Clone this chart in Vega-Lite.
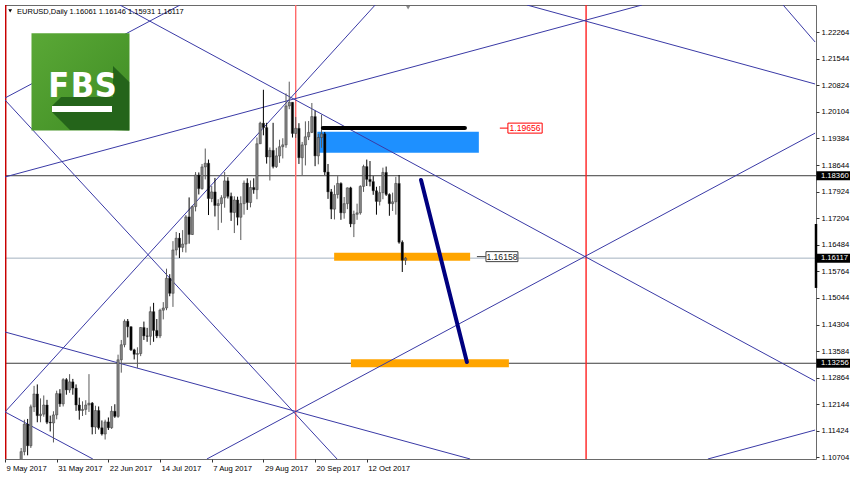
{
"$schema":"https://vega.github.io/schema/vega-lite/v6.json",
"width":811,"height":454,
"autosize":{"type":"none"},
"padding":{"left":5,"top":5,"right":34,"bottom":21},
"background":"#ffffff",
"config":{"view":{"stroke":"#6a6a6a","strokeWidth":1},"text":{"font":"Liberation Sans"},"scale":{"continuousPadding":0},
 "axis":{"labelOverlap":false,"labelSeparation":0,"labelBound":false,"labelFlush":false},"axisY":{"labelOverlap":false},"axisX":{"labelOverlap":false}},
"datasets":{
"candles":[
{"i":0,"o":1.0922,"h":1.0935,"l":1.0869,"c":1.0874},{"i":1,"o":1.0874,"h":1.0905,"l":1.0865,"c":1.0870},{"i":2,"o":1.0870,"h":1.0890,"l":1.0839,"c":1.0862},{"i":3,"o":1.0862,"h":1.0935,"l":1.0855,"c":1.0932},{"i":4,"o":1.0932,"h":1.0985,"l":1.0923,"c":1.0982},
{"i":5,"o":1.0982,"h":1.1095,"l":1.0964,"c":1.1085},{"i":6,"o":1.1085,"h":1.1172,"l":1.1075,"c":1.1160},{"i":7,"o":1.1160,"h":1.1174,"l":1.1075,"c":1.1101},{"i":8,"o":1.1101,"h":1.1213,"l":1.1095,"c":1.1207},{"i":9,"o":1.1207,"h":1.1264,"l":1.1193,"c":1.1242},
{"i":10,"o":1.1242,"h":1.1268,"l":1.1165,"c":1.1183},{"i":11,"o":1.1183,"h":1.1230,"l":1.1165,"c":1.1187},{"i":12,"o":1.1187,"h":1.1238,"l":1.1180,"c":1.1212},{"i":13,"o":1.1212,"h":1.1226,"l":1.1160,"c":1.1165},{"i":14,"o":1.1165,"h":1.1183,"l":1.1140,"c":1.1163},
{"i":15,"o":1.1163,"h":1.1195,"l":1.1110,"c":1.1185},{"i":16,"o":1.1185,"h":1.1251,"l":1.1173,"c":1.1243},{"i":17,"o":1.1243,"h":1.1255,"l":1.1207,"c":1.1215},{"i":18,"o":1.1215,"h":1.1285,"l":1.1208,"c":1.1281},{"i":19,"o":1.1281,"h":1.1285,"l":1.1240,"c":1.1253},
{"i":20,"o":1.1253,"h":1.1296,"l":1.1245,"c":1.1275},{"i":21,"o":1.1275,"h":1.1283,"l":1.1240,"c":1.1258},{"i":22,"o":1.1258,"h":1.1268,"l":1.1196,"c":1.1212},{"i":23,"o":1.1212,"h":1.1232,"l":1.1172,"c":1.1197},{"i":24,"o":1.1197,"h":1.1222,"l":1.1182,"c":1.1200},
{"i":25,"o":1.1200,"h":1.1225,"l":1.1185,"c":1.1212},{"i":26,"o":1.1212,"h":1.1296,"l":1.1193,"c":1.1217},{"i":27,"o":1.1217,"h":1.1220,"l":1.1132,"c":1.1152},{"i":28,"o":1.1152,"h":1.1210,"l":1.1133,"c":1.1197},{"i":29,"o":1.1197,"h":1.1208,"l":1.1145,"c":1.1150},
{"i":30,"o":1.1150,"h":1.1170,"l":1.1129,"c":1.1133},{"i":31,"o":1.1133,"h":1.1172,"l":1.1118,"c":1.1166},{"i":32,"o":1.1166,"h":1.1178,"l":1.1144,"c":1.1150},{"i":33,"o":1.1150,"h":1.1209,"l":1.1147,"c":1.1195},{"i":34,"o":1.1195,"h":1.1214,"l":1.1177,"c":1.1181},
{"i":35,"o":1.1181,"h":1.1349,"l":1.1177,"c":1.1335},{"i":36,"o":1.1335,"h":1.1389,"l":1.1300,"c":1.1376},{"i":37,"o":1.1376,"h":1.1445,"l":1.1369,"c":1.1440},{"i":38,"o":1.1440,"h":1.1446,"l":1.1396,"c":1.1425},{"i":39,"o":1.1425,"h":1.1426,"l":1.1359,"c":1.1362},
{"i":40,"o":1.1362,"h":1.1365,"l":1.1336,"c":1.1350},{"i":41,"o":1.1350,"h":1.1369,"l":1.1313,"c":1.1352},{"i":42,"o":1.1352,"h":1.1424,"l":1.1345,"c":1.1423},{"i":43,"o":1.1423,"h":1.1439,"l":1.1389,"c":1.1400},{"i":44,"o":1.1400,"h":1.1422,"l":1.1384,"c":1.1399},
{"i":45,"o":1.1399,"h":1.1480,"l":1.1375,"c":1.1466},{"i":46,"o":1.1466,"h":1.1490,"l":1.1384,"c":1.1415},{"i":47,"o":1.1415,"h":1.1446,"l":1.1394,"c":1.1400},{"i":48,"o":1.1400,"h":1.1474,"l":1.1394,"c":1.1470},{"i":49,"o":1.1470,"h":1.1492,"l":1.1445,"c":1.1476},
{"i":50,"o":1.1476,"h":1.1583,"l":1.1470,"c":1.1557},{"i":51,"o":1.1557,"h":1.1568,"l":1.1508,"c":1.1516},{"i":52,"o":1.1516,"h":1.1658,"l":1.1479,"c":1.1634},{"i":53,"o":1.1634,"h":1.1683,"l":1.1619,"c":1.1666},{"i":54,"o":1.1666,"h":1.1680,"l":1.1612,"c":1.1641},
{"i":55,"o":1.1641,"h":1.1688,"l":1.1628,"c":1.1650},{"i":56,"o":1.1650,"h":1.1729,"l":1.1627,"c":1.1724},{"i":57,"o":1.1724,"h":1.1777,"l":1.1651,"c":1.1676},{"i":58,"o":1.1676,"h":1.1755,"l":1.1675,"c":1.1752},{"i":59,"o":1.1752,"h":1.1846,"l":1.1739,"c":1.1838},
{"i":60,"o":1.1838,"h":1.1845,"l":1.1785,"c":1.1801},{"i":61,"o":1.1801,"h":1.1868,"l":1.1798,"c":1.1860},{"i":62,"o":1.1860,"h":1.1910,"l":1.1826,"c":1.1870},{"i":63,"o":1.1870,"h":1.1880,"l":1.1729,"c":1.1774},{"i":64,"o":1.1774,"h":1.1808,"l":1.1764,"c":1.1792},
{"i":65,"o":1.1792,"h":1.1830,"l":1.1725,"c":1.1755},{"i":66,"o":1.1755,"h":1.1772,"l":1.1688,"c":1.1760},{"i":67,"o":1.1760,"h":1.1783,"l":1.1708,"c":1.1776},{"i":68,"o":1.1776,"h":1.1846,"l":1.1749,"c":1.1822},{"i":69,"o":1.1822,"h":1.1832,"l":1.1774,"c":1.1780},
{"i":70,"o":1.1780,"h":1.1790,"l":1.1713,"c":1.1736},{"i":71,"o":1.1736,"h":1.1780,"l":1.1680,"c":1.1770},{"i":72,"o":1.1770,"h":1.1779,"l":1.1701,"c":1.1723},{"i":73,"o":1.1723,"h":1.1780,"l":1.1661,"c":1.1760},{"i":74,"o":1.1760,"h":1.1823,"l":1.1730,"c":1.1816},
{"i":75,"o":1.1816,"h":1.1829,"l":1.1743,"c":1.1763},{"i":76,"o":1.1763,"h":1.1823,"l":1.1750,"c":1.1804},{"i":77,"o":1.1804,"h":1.1829,"l":1.1787,"c":1.1798},{"i":78,"o":1.1798,"h":1.1940,"l":1.1772,"c":1.1923},{"i":79,"o":1.1923,"h":1.1983,"l":1.1923,"c":1.1979},
{"i":80,"o":1.1979,"h":1.2070,"l":1.1946,"c":1.1967},{"i":81,"o":1.1967,"h":1.1980,"l":1.1869,"c":1.1887},{"i":82,"o":1.1887,"h":1.1913,"l":1.1823,"c":1.1905},{"i":83,"o":1.1905,"h":1.1980,"l":1.1856,"c":1.1861},{"i":84,"o":1.1861,"h":1.1912,"l":1.1857,"c":1.1890},
{"i":85,"o":1.1890,"h":1.1934,"l":1.1871,"c":1.1915},{"i":86,"o":1.1915,"h":1.1938,"l":1.1883,"c":1.1920},{"i":87,"o":1.1920,"h":1.2060,"l":1.1912,"c":1.2026},{"i":88,"o":1.2026,"h":1.2092,"l":1.2017,"c":1.2036},{"i":89,"o":1.2036,"h":1.2036,"l":1.1940,"c":1.1951},
{"i":90,"o":1.1951,"h":1.1996,"l":1.1939,"c":1.1965},{"i":91,"o":1.1965,"h":1.1979,"l":1.1868,"c":1.1885},{"i":92,"o":1.1885,"h":1.1928,"l":1.1838,"c":1.1920},{"i":93,"o":1.1920,"h":1.1984,"l":1.1864,"c":1.1942},{"i":94,"o":1.1942,"h":1.1985,"l":1.1933,"c":1.1954},
{"i":95,"o":1.1954,"h":1.2034,"l":1.1952,"c":1.1997},{"i":96,"o":1.1997,"h":1.2013,"l":1.1862,"c":1.1890},{"i":97,"o":1.1890,"h":1.1950,"l":1.1867,"c":1.1940},{"i":98,"o":1.1940,"h":1.2002,"l":1.1912,"c":1.1950},{"i":99,"o":1.1950,"h":1.1955,"l":1.1838,"c":1.1846},
{"i":100,"o":1.1846,"h":1.1868,"l":1.1773,"c":1.1792},{"i":101,"o":1.1792,"h":1.1800,"l":1.1718,"c":1.1745},{"i":102,"o":1.1745,"h":1.1810,"l":1.1717,"c":1.1785},{"i":103,"o":1.1785,"h":1.1835,"l":1.1774,"c":1.1815},{"i":104,"o":1.1815,"h":1.1818,"l":1.1716,"c":1.1735},
{"i":105,"o":1.1735,"h":1.1778,"l":1.1719,"c":1.1760},{"i":106,"o":1.1760,"h":1.1804,"l":1.1745,"c":1.1803},{"i":107,"o":1.1803,"h":1.1806,"l":1.1696,"c":1.1705},{"i":108,"o":1.1705,"h":1.1741,"l":1.1669,"c":1.1731},{"i":109,"o":1.1731,"h":1.1760,"l":1.1716,"c":1.1735},
{"i":110,"o":1.1735,"h":1.1810,"l":1.1730,"c":1.1807},{"i":111,"o":1.1807,"h":1.1866,"l":1.1792,"c":1.1861},{"i":112,"o":1.1861,"h":1.1880,"l":1.1808,"c":1.1826},{"i":113,"o":1.1826,"h":1.1876,"l":1.1807,"c":1.1820},{"i":114,"o":1.1820,"h":1.1835,"l":1.1784,"c":1.1795},
{"i":115,"o":1.1795,"h":1.1806,"l":1.1730,"c":1.1766},{"i":116,"o":1.1766,"h":1.1808,"l":1.1755,"c":1.1790},{"i":117,"o":1.1790,"h":1.1858,"l":1.1772,"c":1.1845},{"i":118,"o":1.1845,"h":1.1861,"l":1.1781,"c":1.1785},{"i":119,"o":1.1785,"h":1.1788,"l":1.1727,"c":1.1760},
{"i":120,"o":1.1760,"h":1.1790,"l":1.1740,"c":1.1765},{"i":121,"o":1.1765,"h":1.1833,"l":1.1730,"c":1.1815},{"i":122,"o":1.1815,"h":1.1838,"l":1.1651,"c":1.1655},{"i":123,"o":1.1655,"h":1.1660,"l":1.1574,"c":1.1606},{"i":124,"o":1.16061,"h":1.16146,"l":1.15931,"c":1.16117}
],
"gann":[
{"i1":35.6,"p1":1.23007,"i2":250.8,"p2":1.12772},
{"i1":0,"p1":1.20476,"i2":54.2,"p2":1.23007},
{"i1":0,"p1":1.18326,"i2":197.2,"p2":1.23007},
{"i1":0,"p1":1.20421,"i2":102.8,"p2":1.1065},
{"i1":0,"p1":1.11931,"i2":114.6,"p2":1.23007},
{"i1":0,"p1":1.11931,"i2":27.2,"p2":1.1065},
{"i1":62.5,"p1":1.1065,"i2":250.8,"p2":1.1952},
{"i1":0,"p1":1.14107,"i2":144.0,"p2":1.1065},
{"i1":161.6,"p1":1.23007,"i2":250.8,"p2":1.20857},
{"i1":240.9,"p1":1.23007,"i2":250.8,"p2":1.22},
{"i1":217.6,"p1":1.1065,"i2":250.8,"p2":1.11438}
],
"levels":[{"p":1.18360},{"p":1.13256}],
"bid":[{"p":1.16117}],
"vlines":[{"i":90.0,"w":"a"},{"i":179.9,"w":"b"}],
"zone":[{"i1":96.7,"i2":146.7,"p1":1.19558,"p2":1.18987}],
"orange":[{"i1":101.9,"i2":144.0,"p":1.16158},{"i1":107.1,"i2":156.0,"p":1.13256}],
"blackline":[{"i1":98.4,"i2":142.4,"p":1.19656}],
"navy":[{"i1":128.8,"p1":1.18244,"i2":143.0,"p2":1.13289}],
"tagRed":[{"p":1.19656,"t":"1.19656"}],
"tagGray":[{"p":1.16158,"t":"1.16158"}],
"axisTags":[{"p":1.18360,"t":"1.18360"},{"p":1.16117,"t":"1.16117"},{"p":1.13256,"t":"1.13256"}],
"header":[{"t":"EURUSD,Daily  1.16061 1.16146 1.15931 1.16117"}],
"letters":[{"t":"F","i":16.6},{"t":"B","i":23.95},{"t":"S","i":31.2}],
"shadow":[
{"i":14.55,"top":1.20258,"bot":1.20095},
{"i":17.34,"top":1.20503,"bot":1.1985},
{"i":20.12,"top":1.20503,"bot":1.19605},
{"i":33.41,"top":1.20503,"bot":1.19605},
{"i":33.44,"top":1.21347,"bot":1.19605},
{"i":38.48,"top":1.20911,"bot":1.19591}
]
},
"layer":[
{"data":{"name":"candles"},"mark":{"type":"rule","opacity":0,"clip":true},
 "encoding":{
  "x":{"field":"i","type":"quantitative","scale":{"domain":[0,251.08],"nice":false,"zero":false,"padding":0},
   "axis":{"title":null,"orient":"bottom","values":[0,16,32,48,64,80,96,112],"labelExpr":"['9 May 2017','31 May 2017','22 Jun 2017','14 Jul 2017','7 Aug 2017','29 Aug 2017','20 Sep 2017','12 Oct 2017'][round(datum.value/16)]","domain":false,"grid":false,"ticks":true,"tickSize":3,"tickColor":"#333333","labelAlign":"left","labelBaseline":"top","labelPadding":2,"labelOffset":1,"labelFlush":false,"labelOverlap":false,"labelBound":false,"labelFont":"Liberation Sans","labelFontSize":7.7,"labelColor":"#000000"}},
  "y":{"field":"l","type":"quantitative","scale":{"domain":[1.1065,1.23007],"nice":false,"zero":false,"padding":0},
   "axis":{"title":null,"orient":"right","values":[1.22264,1.21544,1.20824,1.20104,1.19384,1.18644,1.17924,1.17204,1.16484,1.15764,1.15044,1.14304,1.13584,1.12864,1.12144,1.11424,1.10704],"tickCount":17,"format":".5f","domain":false,"grid":false,"ticks":true,"tickSize":3,"tickColor":"#333333","labelAlign":"left","labelBaseline":"middle","labelPadding":2,"labelFlush":false,"labelOverlap":false,"labelBound":false,"labelFont":"Liberation Sans","labelFontSize":7.7,"labelColor":"#000000"}},
  "y2":{"field":"h"}}},
{"data":{"name":"bid"},"mark":{"type":"rule","clip":true,"color":"#a3b1bf","strokeWidth":1},
 "encoding":{"y":{"field":"p","type":"quantitative","scale":{"domain":[1.1065,1.23007],"nice":false,"zero":false,"padding":0}}}},
{"data":{"name":"levels"},"mark":{"type":"rule","clip":true,"color":"#3c3c3c","strokeWidth":1},
 "encoding":{"y":{"field":"p","type":"quantitative","scale":{"domain":[1.1065,1.23007],"nice":false,"zero":false,"padding":0}}}},
{"data":{"name":"zone"},"mark":{"type":"rect","clip":true,"color":"#1e90ff"},
 "encoding":{"x":{"field":"i1","type":"quantitative","scale":{"domain":[0,251.08],"nice":false,"zero":false,"padding":0}},"x2":{"field":"i2"},
  "y":{"field":"p1","type":"quantitative","scale":{"domain":[1.1065,1.23007],"nice":false,"zero":false,"padding":0}},"y2":{"field":"p2"}}},
{"data":{"name":"orange"},"mark":{"type":"rule","clip":true,"color":"#ffa500","strokeWidth":8,"strokeCap":"butt"},
 "encoding":{"x":{"field":"i1","type":"quantitative","scale":{"domain":[0,251.08],"nice":false,"zero":false,"padding":0}},"x2":{"field":"i2"},
  "y":{"field":"p","type":"quantitative","scale":{"domain":[1.1065,1.23007],"nice":false,"zero":false,"padding":0}}}},
{"data":{"name":"vlines"},"mark":{"type":"rule","clip":true,"strokeWidth":1.4},
 "encoding":{"x":{"field":"i","type":"quantitative","scale":{"domain":[0,251.08],"nice":false,"zero":false,"padding":0}},
  "color":{"field":"w","type":"nominal","scale":{"domain":["a","b"],"range":["#ff6a6a","#ff2020"]},"legend":null}}},
{"data":{"name":"bid"},"mark":{"type":"rule","clip":true,"color":"#c80000","strokeWidth":1.6},
 "encoding":{"x":{"datum":0.2,"type":"quantitative","scale":{"domain":[0,251.08],"nice":false,"zero":false,"padding":0}}}},
{"data":{"name":"gann"},"mark":{"type":"rule","clip":true,"color":"#3a3aa6","strokeWidth":1},
 "encoding":{"x":{"field":"i1","type":"quantitative","scale":{"domain":[0,251.08],"nice":false,"zero":false,"padding":0}},"x2":{"field":"i2"},
  "y":{"field":"p1","type":"quantitative","scale":{"domain":[1.1065,1.23007],"nice":false,"zero":false,"padding":0}},"y2":{"field":"p2"}}},
{"data":{"name":"candles"},"mark":{"type":"rule","clip":true,"strokeWidth":1},
 "encoding":{
  "x":{"field":"i","type":"quantitative","scale":{"domain":[0,251.08],"nice":false,"zero":false,"padding":0}},
  "y":{"field":"l","type":"quantitative","scale":{"domain":[1.1065,1.23007],"nice":false,"zero":false,"padding":0}},
  "y2":{"field":"h"},
  "color":{"condition":{"test":"datum.c >= datum.o","value":"#5a5a5a"},"value":"#000000"}}},
{"data":{"name":"candles"},"mark":{"type":"bar","clip":true,"size":2.4,"stroke":"#2a2a2a","strokeWidth":0.4},
 "encoding":{"x":{"field":"i","type":"quantitative","scale":{"domain":[0,251.08],"nice":false,"zero":false,"padding":0}},
  "y":{"field":"o","type":"quantitative","scale":{"domain":[1.1065,1.23007],"nice":false,"zero":false,"padding":0}},"y2":{"field":"c"},
  "color":{"condition":{"test":"datum.c >= datum.o","value":"#828282"},"value":"#000000"}}},
{"data":{"name":"blackline"},"mark":{"type":"rule","clip":true,"color":"#000000","strokeWidth":4,"strokeCap":"round"},
 "encoding":{"x":{"field":"i1","type":"quantitative","scale":{"domain":[0,251.08],"nice":false,"zero":false,"padding":0}},"x2":{"field":"i2"},
  "y":{"field":"p","type":"quantitative","scale":{"domain":[1.1065,1.23007],"nice":false,"zero":false,"padding":0}}}},
{"data":{"name":"navy"},"mark":{"type":"rule","clip":true,"color":"#00007f","strokeWidth":4,"strokeCap":"round"},
 "encoding":{"x":{"field":"i1","type":"quantitative","scale":{"domain":[0,251.08],"nice":false,"zero":false,"padding":0}},"x2":{"field":"i2"},
  "y":{"field":"p1","type":"quantitative","scale":{"domain":[1.1065,1.23007],"nice":false,"zero":false,"padding":0}},"y2":{"field":"p2"}}},
{"data":{"name":"tagRed"},"mark":{"type":"rule","color":"#ff0000","strokeWidth":1},
 "encoding":{"x":{"datum":153.2,"type":"quantitative","scale":{"domain":[0,251.08],"nice":false,"zero":false,"padding":0}},"x2":{"datum":155.7},
  "y":{"field":"p","type":"quantitative","scale":{"domain":[1.1065,1.23007],"nice":false,"zero":false,"padding":0}}}},
{"data":{"name":"tagRed"},"mark":{"type":"bar","size":10,"fill":"#ffffff","stroke":"#ff0000","strokeWidth":1},
 "encoding":{"x":{"datum":155.7,"type":"quantitative","scale":{"domain":[0,251.08],"nice":false,"zero":false,"padding":0}},"x2":{"datum":166.3},
  "y":{"field":"p","type":"quantitative","scale":{"domain":[1.1065,1.23007],"nice":false,"zero":false,"padding":0}}}},
{"data":{"name":"tagRed"},"mark":{"type":"text","color":"#ff0000","fontSize":8.6,"align":"center","baseline":"middle","font":"Liberation Sans"},
 "encoding":{"x":{"datum":161.0,"type":"quantitative","scale":{"domain":[0,251.08],"nice":false,"zero":false,"padding":0}},
  "y":{"field":"p","type":"quantitative","scale":{"domain":[1.1065,1.23007],"nice":false,"zero":false,"padding":0}},"text":{"field":"t"}}},
{"data":{"name":"tagGray"},"mark":{"type":"rule","color":"#404040","strokeWidth":1},
 "encoding":{"x":{"datum":146.1,"type":"quantitative","scale":{"domain":[0,251.08],"nice":false,"zero":false,"padding":0}},"x2":{"datum":148.9},
  "y":{"field":"p","type":"quantitative","scale":{"domain":[1.1065,1.23007],"nice":false,"zero":false,"padding":0}}}},
{"data":{"name":"tagGray"},"mark":{"type":"bar","size":10,"fill":"#ffffff","stroke":"#404040","strokeWidth":1},
 "encoding":{"x":{"datum":148.9,"type":"quantitative","scale":{"domain":[0,251.08],"nice":false,"zero":false,"padding":0}},"x2":{"datum":158.8},
  "y":{"field":"p","type":"quantitative","scale":{"domain":[1.1065,1.23007],"nice":false,"zero":false,"padding":0}}}},
{"data":{"name":"tagGray"},"mark":{"type":"text","color":"#202020","fontSize":8.6,"align":"center","baseline":"middle","font":"Liberation Sans"},
 "encoding":{"x":{"datum":153.85,"type":"quantitative","scale":{"domain":[0,251.08],"nice":false,"zero":false,"padding":0}},
  "y":{"field":"p","type":"quantitative","scale":{"domain":[1.1065,1.23007],"nice":false,"zero":false,"padding":0}},"text":{"field":"t"}}},
{"data":{"name":"bid"},"mark":{"type":"rule","color":"#000000","strokeWidth":2.5},
 "encoding":{"x":{"datum":251.08,"type":"quantitative","scale":{"domain":[0,251.08],"nice":false,"zero":false,"padding":0}},
  "y":{"datum":1.17046,"type":"quantitative","scale":{"domain":[1.1065,1.23007],"nice":false,"zero":false,"padding":0}},"y2":{"datum":1.15306}}},
{"data":{"name":"axisTags"},"mark":{"type":"rule","color":"#000000","strokeWidth":9,"strokeCap":"butt"},
 "encoding":{"x":{"datum":251.2,"type":"quantitative","scale":{"domain":[0,251.08],"nice":false,"zero":false,"padding":0}},"x2":{"datum":262.5},
  "y":{"field":"p","type":"quantitative","scale":{"domain":[1.1065,1.23007],"nice":false,"zero":false,"padding":0}}}},
{"data":{"name":"axisTags"},"mark":{"type":"text","color":"#ffffff","fontSize":7.7,"align":"left","baseline":"middle","font":"Liberation Sans"},
 "encoding":{"x":{"datum":252.6,"type":"quantitative","scale":{"domain":[0,251.08],"nice":false,"zero":false,"padding":0}},
  "y":{"field":"p","type":"quantitative","scale":{"domain":[1.1065,1.23007],"nice":false,"zero":false,"padding":0}},"text":{"field":"t"}}},
{"data":{"name":"header"},"mark":{"type":"text","color":"#000000","fontSize":7.5,"align":"left","baseline":"middle","font":"Liberation Sans"},
 "encoding":{"x":{"datum":3.75,"type":"quantitative","scale":{"domain":[0,251.08],"nice":false,"zero":false,"padding":0}},
  "y":{"datum":1.2283,"type":"quantitative","scale":{"domain":[1.1065,1.23007],"nice":false,"zero":false,"padding":0}},"text":{"field":"t"}}},
{"data":{"name":"header"},"mark":{"type":"point","shape":"triangle-down","filled":true,"color":"#000000","size":14,"opacity":1},
 "encoding":{"x":{"datum":1.6,"type":"quantitative","scale":{"domain":[0,251.08],"nice":false,"zero":false,"padding":0}},
  "y":{"datum":1.22845,"type":"quantitative","scale":{"domain":[1.1065,1.23007],"nice":false,"zero":false,"padding":0}}}},
{"data":{"name":"header"},"mark":{"type":"point","shape":"triangle-down","filled":true,"color":"#8a8a8a","size":16,"opacity":1},
 "encoding":{"x":{"datum":124.8,"type":"quantitative","scale":{"domain":[0,251.08],"nice":false,"zero":false,"padding":0}},
  "y":{"datum":1.22935,"type":"quantitative","scale":{"domain":[1.1065,1.23007],"nice":false,"zero":false,"padding":0}}}},
{"data":{"name":"header"},"mark":{"type":"rect","color":{"gradient":"linear","x1":0,"y1":0,"x2":1,"y2":1,"stops":[{"offset":0,"color":"#5aa836"},{"offset":1,"color":"#3f8c24"}]}},
 "encoding":{"x":{"datum":8.2,"type":"quantitative","scale":{"domain":[0,251.08],"nice":false,"zero":false,"padding":0}},"x2":{"datum":38.54},
  "y":{"datum":1.22237,"type":"quantitative","scale":{"domain":[1.1065,1.23007],"nice":false,"zero":false,"padding":0}},"y2":{"datum":1.19591}}},
{"data":{"name":"shadow"},"mark":{"type":"area","color":"#24641a","opacity":1},
 "encoding":{"x":{"field":"i","type":"quantitative","scale":{"domain":[0,251.08],"nice":false,"zero":false,"padding":0}},
  "y":{"field":"top","type":"quantitative","scale":{"domain":[1.1065,1.23007],"nice":false,"zero":false,"padding":0}},"y2":{"field":"bot"}}},
{"data":{"name":"header"},"mark":{"type":"rect","color":"#ffffff"},
 "encoding":{"x":{"datum":14.55,"type":"quantitative","scale":{"domain":[0,251.08],"nice":false,"zero":false,"padding":0}},"x2":{"datum":33.13},
  "y":{"datum":1.20258,"type":"quantitative","scale":{"domain":[1.1065,1.23007],"nice":false,"zero":false,"padding":0}},"y2":{"datum":1.20095}}},
{"data":{"name":"letters"},"mark":{"type":"text","color":"#ffffff","fontSize":34,"fontWeight":"bold","align":"center","baseline":"alphabetic","font":"Liberation Sans Narrow, DejaVu Sans Condensed, Liberation Sans"},
 "encoding":{"x":{"field":"i","type":"quantitative","scale":{"domain":[0,251.08],"nice":false,"zero":false,"padding":0}},
  "y":{"datum":1.20503,"type":"quantitative","scale":{"domain":[1.1065,1.23007],"nice":false,"zero":false,"padding":0}},"text":{"field":"t"}}}
]
}
